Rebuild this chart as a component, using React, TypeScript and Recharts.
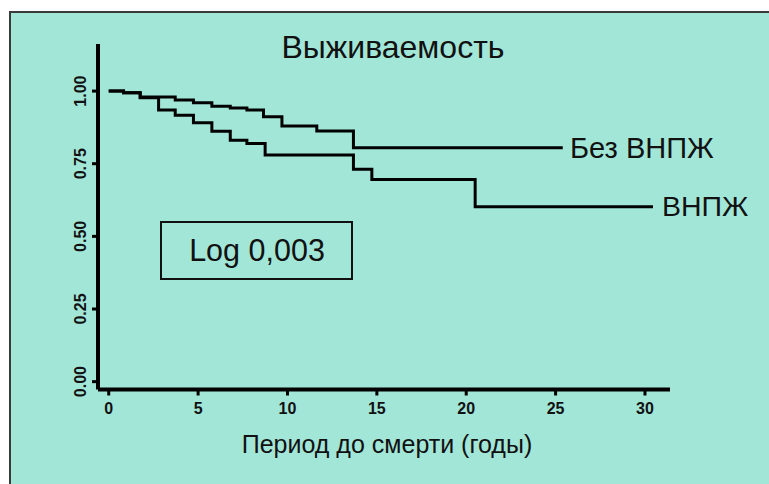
import React from 'react';
import { LineChart, Line, XAxis, YAxis } from 'recharts';

// Без ВНПЖ (without VNPZh) – Kaplan–Meier steps
const upperTimes = [0, 0.83, 1.76, 3.72, 4.74, 5.77, 6.8, 7.73, 8.66, 9.69, 11.64, 13.69, 25.4];
const upperSurv = [1.0, 0.994, 0.98, 0.969, 0.96, 0.948, 0.942, 0.935, 0.912, 0.88, 0.863, 0.805, 0.805];

// ВНПЖ
const lowerTimes = [0, 0.83, 1.76, 2.79, 3.72, 4.74, 5.77, 6.8, 7.73, 8.75, 13.69, 14.72, 20.5, 30.45];
const lowerSurv = [1.0, 0.994, 0.977, 0.935, 0.917, 0.891, 0.862, 0.831, 0.82, 0.78, 0.731, 0.696, 0.602, 0.602];

const xTicks = [0, 5, 10, 15, 20, 25, 30];
const yTicks = [0, 0.25, 0.5, 0.75, 1.0];

const title = 'Выживаемость';
const xLabel = 'Период до смерти (годы)';
const upperName = 'Без ВНПЖ';
const lowerName = 'ВНПЖ';
const logText = 'Log 0,003';

const upperData = upperTimes.map((t, i) => ({ t, s: upperSurv[i] }));
const lowerData = lowerTimes.map((t, i) => ({ t, s: lowerSurv[i] }));

const FONT = '"Liberation Sans", Arial, Helvetica, sans-serif';
const BG = '#a2e6d8';
const INK = '#111';

const YTick = (props: any) => {
  const { x, y, payload } = props;
  return (
    <text
      transform={`translate(${x - 10},${y}) rotate(-90)`}
      textAnchor="middle"
      dominantBaseline="central"
      fontFamily={FONT}
      fontWeight="bold"
      fontSize={16}
      fill={INK}
    >
      {Number(payload.value).toFixed(2)}
    </text>
  );
};

const XTick = (props: any) => {
  const { x, y, payload } = props;
  return (
    <text
      x={x}
      y={y}
      dy={5}
      textAnchor="middle"
      dominantBaseline="central"
      fontFamily={FONT}
      fontWeight="bold"
      fontSize={16}
      fill={INK}
    >
      {payload.value}
    </text>
  );
};

export default function App() {
  return (
    <div style={{ position: 'absolute', left: 0, top: 0, width: 769, height: 484, background: '#fff', overflow: 'hidden' }}>
      <div
        style={{
          position: 'absolute',
          left: 9,
          top: 11,
          width: 760,
          height: 473,
          background: BG,
          borderLeft: '2px solid #3a3a3a',
          borderTop: '2px solid #3a3a3a',
          boxSizing: 'border-box',
        }}
      />
      <div style={{ position: 'absolute', left: 0, top: 0 }}>
        <LineChart width={769} height={484} margin={{ top: 44, right: 99, left: 0, bottom: 0 }}>
          <XAxis
            type="number"
            dataKey="t"
            domain={[-0.6, 31.4]}
            ticks={xTicks}
            allowDataOverflow
            height={94.5}
            tickSize={6}
            tickMargin={8}
            axisLine={{ stroke: '#000', strokeWidth: 4 }}
            tickLine={{ stroke: '#000', strokeWidth: 3 }}
            tick={<XTick />}
          />
          <YAxis
            type="number"
            dataKey="s"
            domain={[-0.027, 1.162]}
            ticks={yTicks}
            allowDataOverflow
            width={98}
            tickSize={6}
            axisLine={{ stroke: '#000', strokeWidth: 4 }}
            tickLine={{ stroke: '#000', strokeWidth: 3 }}
            tick={<YTick />}
          />
          <Line
            data={upperData}
            dataKey="s"
            type="stepAfter"
            stroke="#000"
            strokeWidth={3}
            dot={false}
            activeDot={false}
            isAnimationActive={false}
          />
          <Line
            data={lowerData}
            dataKey="s"
            type="stepAfter"
            stroke="#000"
            strokeWidth={3}
            dot={false}
            activeDot={false}
            isAnimationActive={false}
          />
        </LineChart>
      </div>
      <svg width={769} height={484} style={{ position: 'absolute', left: 0, top: 0, pointerEvents: 'none' }}>
        <text x={393} y={58} textAnchor="middle" fontFamily={FONT} fontSize={32} fill={INK}>
          {title}
        </text>
        <text x={570} y={158} textAnchor="start" fontFamily={FONT} fontSize={29} fill={INK}>
          {upperName}
        </text>
        <text x={662} y={216} textAnchor="start" fontFamily={FONT} fontSize={28.5} fill={INK}>
          {lowerName}
        </text>
        <rect x={161} y={222} width={191} height={57} fill="none" stroke={INK} strokeWidth={2} />
        <text x={257} y={261} textAnchor="middle" fontFamily={FONT} fontSize={30.5} fill={INK}>
          {logText}
        </text>
        <text x={387} y={453} textAnchor="middle" fontFamily={FONT} fontSize={25} fill={INK}>
          {xLabel}
        </text>
      </svg>
    </div>
  );
}
